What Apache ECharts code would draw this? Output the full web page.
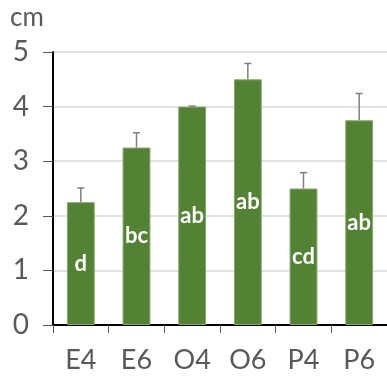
<!DOCTYPE html>
<html><head><meta charset="utf-8">
<script src="https://cdn.jsdelivr.net/npm/echarts@6/dist/echarts.min.js"></script>
<style>html,body{margin:0;padding:0;background:#fff}#c{width:387px;height:381px}</style>
</head><body><div id="c"></div>
<script>
const categories = ['E4','E6','O4','O6','P4','P6'];
const means = [2.25, 3.25, 4.0, 4.5, 2.5, 3.75];
const errors = [0.26, 0.27, 0.01, 0.29, 0.29, 0.49];
const letters = ['d','bc','ab','ab','cd','ab'];
const yTicks = [0,1,2,3,4,5];

const FONT = 'Lato, "Open Sans", sans-serif';
const chart = echarts.init(document.getElementById('c'), null, {renderer:'canvas'});
chart.setOption({
  animation:false,
  grid:{left:53, right:-2, top:52, bottom:56, containLabel:false},
  graphic:[{type:'text', left:10, top:5, style:{text:'cm', fill:'#595959', font:'26px '+FONT}}],
  xAxis:{type:'category', data:categories,
    axisLine:{lineStyle:{color:'#000', width:2}},
    axisTick:{show:true, length:8, lineStyle:{color:'#595959', width:1}},
    axisLabel:{color:'#595959', fontFamily:FONT, fontSize:27, margin:22}},
  yAxis:{type:'value', min:yTicks[0], max:yTicks[yTicks.length-1], interval:1,
    axisLine:{show:true, lineStyle:{color:'#000', width:2}},
    axisTick:{show:true, length:10, lineStyle:{color:'#595959', width:1}},
    splitLine:{lineStyle:{color:'#d9d9d9', width:1.5}},
    axisLabel:{color:'#595959', fontFamily:FONT, fontSize:28, margin:24}},
  series:[
    {type:'bar', data:means, barWidth:'50%',
      itemStyle:{color:'#548235', borderColor:'#86a86c', borderWidth:1},
      label:{show:true, position:'inside', formatter:p=>letters[p.dataIndex],
        color:'#fff', fontFamily:FONT, fontWeight:'bold', fontSize:22}},
    {type:'custom', data:means.map((m,i)=>[i,m,m+errors[i]]), z:1,
      renderItem:function(params, api){
        const lo = api.coord([api.value(0), api.value(1)]);
        const hi = api.coord([api.value(0), api.value(2)]);
        const st = {stroke:'#7f7f7f', lineWidth:1.5};
        return {type:'group', children:[
          {type:'line', shape:{x1:lo[0], y1:lo[1], x2:hi[0], y2:hi[1]}, style:st},
          {type:'line', shape:{x1:hi[0]-3.5, y1:hi[1], x2:hi[0]+3.5, y2:hi[1]}, style:st}
        ]};
      }}
  ]
});
</script></body></html>
